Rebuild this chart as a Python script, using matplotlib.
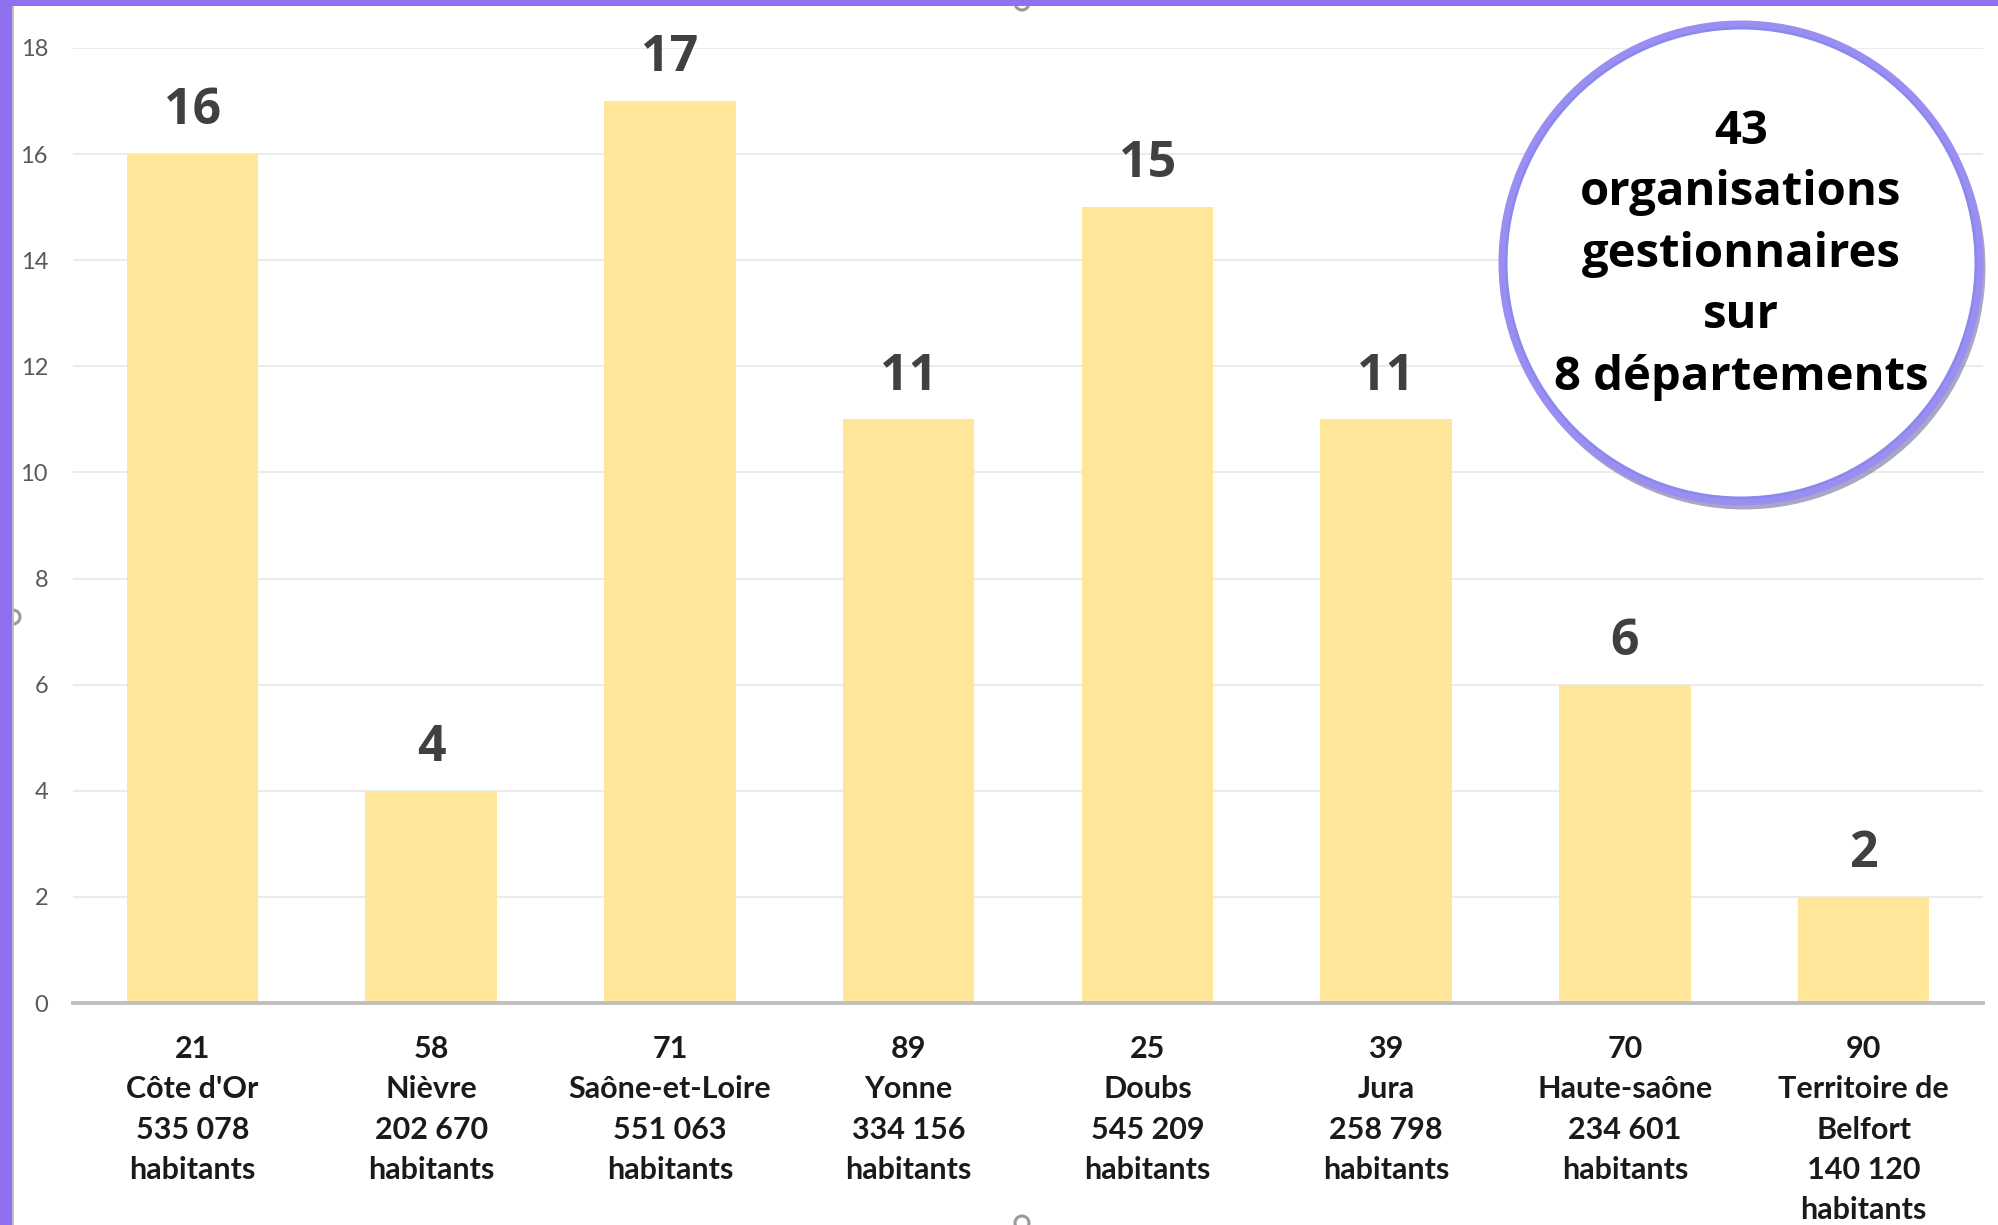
import matplotlib
matplotlib.use("Agg")
import matplotlib.pyplot as plt
from matplotlib.patches import Rectangle, Circle
import numpy as np

# Données
codes = ['21', '58', '71', '89', '25', '39', '70', '90']
departements = ["Côte d'Or", 'Nièvre', 'Saône-et-Loire', 'Yonne', 'Doubs',
                'Jura', 'Haute-saône', 'Territoire de\nBelfort']
habitants = ['535 078', '202 670', '551 063', '334 156', '545 209',
             '258 798', '234 601', '140 120']
organisations = [16, 4, 17, 11, 15, 11, 6, 2]
encadre = ['43', 'organisations', 'gestionnaires', 'sur', '8 départements']

W, H = 1998, 1225
fig = plt.figure(figsize=(W / 100, H / 100), dpi=100)
fig.patch.set_facecolor('white')

# bordure violette (capture d'écran)
fig.patches.append(Rectangle((0, 0), 12 / W, 1, transform=fig.transFigure,
                             facecolor='#8E70F0', edgecolor='none', zorder=5))
fig.patches.append(Rectangle((12 / W, 0), 2 / W, 1 - 6 / H, transform=fig.transFigure,
                             facecolor='#BDBDBD', edgecolor='none', zorder=5))
fig.patches.append(Rectangle((0, 1 - 6 / H), 1, 6 / H, transform=fig.transFigure,
                             facecolor='#8E70F0', edgecolor='none', zorder=5))
for hx, hy in [(1022, 3), (13, 617), (1022, 1223)]:
    fig.patches.append(Circle((hx, H - hy), 7, transform=None, facecolor='white',
                              edgecolor='#9A9A9A', lw=2.2, zorder=4))

ax = fig.add_axes([73 / W, (H - 1003) / H, 1910 / W, 955 / H])
x = np.arange(len(codes))
bars = ax.bar(x, organisations, width=0.55, color='#FFE699', zorder=2)

ax.set_xlim(-0.5, len(codes) - 0.5)
ax.set_ylim(0, 18)
ax.set_yticks(np.arange(0, 19, 2))
ax.yaxis.grid(True, color='#E9E9E9', lw=1.3, zorder=0)
ax.set_axisbelow(True)
for s in ['top', 'right', 'left']:
    ax.spines[s].set_visible(False)
ax.spines['bottom'].set_color('#BFBFBF')
ax.spines['bottom'].set_linewidth(2.8)
ax.tick_params(axis='y', length=0, pad=18, labelsize=17, labelcolor='#595959')
ax.tick_params(axis='x', length=0, labelbottom=False)
for lab in ax.get_yticklabels():
    lab.set_family(['Lato', 'DejaVu Sans'])

# valeurs au-dessus des barres
for rect, v in zip(bars, organisations):
    ax.annotate(str(v), xy=(rect.get_x() + rect.get_width() / 2, v),
                xytext=(0, 21.5), textcoords='offset points',
                ha='center', va='baseline', fontsize=36, fontweight='bold',
                color='#404040', family=['Open Sans', 'DejaVu Sans'])

# étiquettes sous l'axe, ligne par ligne
for i in range(len(codes)):
    lignes = [codes[i]] + departements[i].split('\n') + [habitants[i], 'habitants']
    for j, txt in enumerate(lignes):
        ax.annotate(txt, xy=(i, 0), xycoords=('data', 'axes fraction'),
                    xytext=(0, -(39.6 + 29.0 * j)), textcoords='offset points',
                    ha='center', va='baseline', fontsize=22, fontweight='bold',
                    color='#1A1A1A', family=['Lato', 'DejaVu Sans'])

# encadré circulaire
cx, cy, r = 1741, H - 263, 238
fig.patches.append(Circle((cx + 3, cy - 5), r, transform=None, facecolor='none',
                          edgecolor='#6E6E9E', lw=5, alpha=0.6, zorder=6))
fig.patches.append(Circle((cx, cy), r, transform=None, facecolor='white',
                          edgecolor='#9A8EF2', lw=6.5, zorder=7))
fig.patches.append(Circle((cx, cy), r - 3, transform=None, facecolor='none',
                          edgecolor='#7F88EA', lw=1.5, alpha=0.7, zorder=8))
baselines = [144, 205.5, 267, 328.5, 390]
for txt, b in zip(encadre, baselines):
    fig.text(cx / W, 1 - b / H, txt, ha='center', va='baseline', fontsize=34,
             fontweight='bold', color='black', family=['Open Sans', 'DejaVu Sans'],
             zorder=9)

fig.savefig('out.png', dpi=100)
